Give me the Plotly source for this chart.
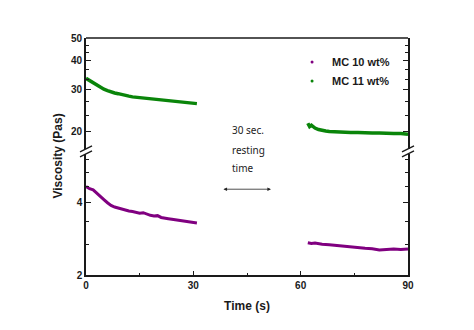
import plotly.graph_objects as go

# ---------------- data ----------------
t_before = list(range(0, 32))
mc10_before = [4.65, 4.55, 4.50, 4.35, 4.23, 4.10, 3.98, 3.88, 3.82, 3.78, 3.74, 3.72,
               3.68, 3.66, 3.62, 3.60, 3.62, 3.57, 3.53, 3.51, 3.52, 3.46, 3.43, 3.42,
               3.40, 3.38, 3.37, 3.35, 3.34, 3.32, 3.30, 3.28]
mc11_before = [33.6, 32.9, 32.0, 31.3, 30.7, 30.2, 29.8, 29.4, 29.1, 28.9, 28.6, 28.4,
               28.2, 28.0, 27.9, 27.7, 27.6, 27.5, 27.4, 27.3, 27.2, 27.1, 27.0, 26.9,
               26.8, 26.7, 26.6, 26.6, 26.5, 26.4, 26.3, 26.2]

t_after_10 = [62, 63, 64, 65, 66, 68, 70, 72, 74, 76, 78, 80, 82, 84, 86, 88, 90]
mc10_after = [2.72, 2.70, 2.71, 2.69, 2.68, 2.67, 2.65, 2.63, 2.61, 2.59, 2.58, 2.57,
              2.54, 2.55, 2.56, 2.55, 2.56]
t_after_11 = [62, 62.5, 63, 64, 65, 66, 67, 68, 70, 72, 74, 76, 78, 80, 82, 84, 86, 88, 90]
mc11_after = [21.6, 20.9, 21.2, 20.6, 20.3, 20.1, 20.0, 19.9, 19.8, 19.8, 19.7, 19.7,
              19.6, 19.6, 19.6, 19.5, 19.5, 19.5, 19.4]

series_names = ["MC 10 wt%", "MC 11 wt%"]
x_ticks = [0, 30, 60, 90]
x_minor = [15, 45, 75]
low_ticks = [2, 4]
low_minor = [2.667, 3.333, 4.667, 5.333, 6.0]
up_ticks = [20, 30, 40, 50]
up_minor = [16.67, 23.33, 26.67, 33.33, 36.67, 43.33, 46.67]
note_lines = ["30 sec.", "resting", "time"]

PURPLE = "#800080"
GREEN = "#0a850a"
AX = "#1a1a1a"
FONT = "Liberation Sans, Arial, sans-serif"

fig = go.Figure()
fig.add_trace(go.Scatter(x=t_before, y=mc10_before, mode="lines",
                         line=dict(color=PURPLE, width=3), yaxis="y", showlegend=False))
fig.add_trace(go.Scatter(x=t_after_10, y=mc10_after, mode="lines",
                         line=dict(color=PURPLE, width=3), yaxis="y", showlegend=False))
fig.add_trace(go.Scatter(x=t_before, y=mc11_before, mode="lines",
                         line=dict(color=GREEN, width=3.5), yaxis="y2", showlegend=False))
fig.add_trace(go.Scatter(x=t_after_11, y=mc11_after, mode="lines",
                         line=dict(color=GREEN, width=3.5), yaxis="y2", showlegend=False))
# legend entries (dot markers)
fig.add_trace(go.Scatter(x=[None], y=[None], mode="markers", name=series_names[0],
                         marker=dict(color=PURPLE, size=3), yaxis="y"))
fig.add_trace(go.Scatter(x=[None], y=[None], mode="markers", name=series_names[1],
                         marker=dict(color=GREEN, size=3), yaxis="y2"))

tickfont = dict(family=FONT, size=10, color=AX, weight="bold")
low_dom = [0, 0.511]
up_dom = [0.532, 1]

fig.update_layout(
    width=474, height=330,
    margin=dict(l=85.5, r=65.5, t=38, b=55),
    paper_bgcolor="white", plot_bgcolor="white",
    font=dict(family=FONT, color=AX),
    xaxis=dict(range=[0, 90], tickvals=x_ticks, showline=True, linecolor=AX, linewidth=1.6,
               ticks="inside", ticklen=4, tickwidth=1.2, tickcolor=AX,
               minor=dict(tickvals=x_minor, ticks="inside", ticklen=2, tickwidth=1.2, tickcolor=AX),
               showgrid=False, zeroline=False, tickfont=tickfont, anchor="y",
               title=dict(text="Time (s)", standoff=12,
                          font=dict(family=FONT, size=12, color=AX, weight="bold"))),
    yaxis=dict(type="log", domain=low_dom, range=[0.30103, 0.802], tickvals=low_ticks,
               showline=True, linecolor=AX, linewidth=1.6, mirror="ticks",
               ticks="inside", ticklen=5, tickwidth=1.2, tickcolor=AX,
               minor=dict(tickvals=low_minor, ticks="inside", ticklen=3, tickwidth=1.2, tickcolor=AX),
               showgrid=False, zeroline=False, tickfont=tickfont, anchor="x",
               ticklabelstandoff=0),
    yaxis2=dict(type="log", domain=up_dom, range=[1.2246, 1.69897], tickvals=up_ticks,
                showline=True, linecolor=AX, linewidth=1.6, mirror="ticks",
                ticks="inside", ticklen=5, tickwidth=1.2, tickcolor=AX,
                minor=dict(tickvals=up_minor, ticks="inside", ticklen=3, tickwidth=1.2, tickcolor=AX),
                showgrid=False, zeroline=False, tickfont=tickfont, anchor="x",
                ticklabelstandoff=0),
    legend=dict(x=0.64, y=0.96, xanchor="left", yanchor="top", bgcolor="rgba(0,0,0,0)",
                font=dict(family=FONT, size=11, color=AX, weight="bold"),
                itemwidth=30),
)

# top frame line
fig.add_shape(type="line", xref="paper", yref="paper", x0=0, x1=1, y0=1, y1=1,
              line=dict(color=AX, width=1.6))

# axis-break marks on both sides
brk = (low_dom[1] + up_dom[0]) / 2
for xa in (0, 1):
    for dy in (-2.5, 2.5):
        fig.add_shape(type="line", xref="paper", yref="paper",
                      xsizemode="pixel", ysizemode="pixel", xanchor=xa, yanchor=brk,
                      x0=-6, x1=6, y0=dy - 3, y1=dy + 3,
                      line=dict(color=AX, width=1.3))

# y-axis title
fig.add_annotation(text="Viscosity (Pas)", xref="paper", yref="paper", x=0, y=0.5,
                   xanchor="center", yanchor="middle",
                   xshift=-29, textangle=-90, showarrow=False,
                   font=dict(family=FONT, size=12, color=AX, weight="bold"))

# resting-time note
note_y = [0.612, 0.528, 0.452]
for txt, yy in zip(note_lines, note_y):
    fig.add_annotation(text=txt, xref="x", yref="paper", x=40.3, y=yy, xanchor="left",
                       showarrow=False,
                       font=dict(family="Noto Sans, Open Sans, sans-serif", size=10, color="#222"))
fig.add_annotation(text="", xref="x", yref="paper", x=51.7, y=0.362,
                   axref="x", ayref="pixel", ax=38.0, ay=0,
                   showarrow=True, arrowside="end+start", arrowhead=2, arrowsize=0.9,
                   arrowwidth=0.8, arrowcolor="#222")

fig.write_html("out.html")
